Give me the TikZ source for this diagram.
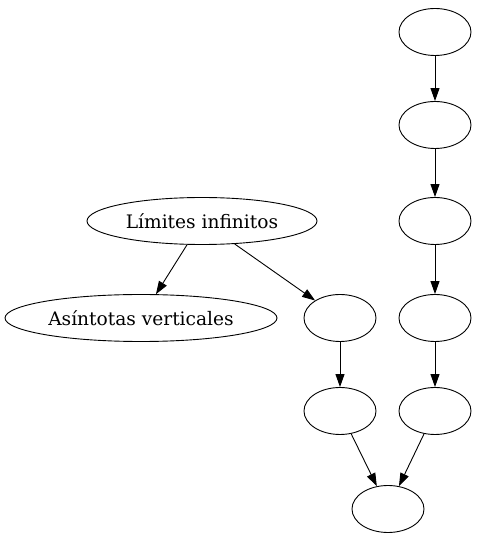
\documentclass[tikz,border=0pt]{standalone}
\usepackage{fontspec}
\setmainfont{DejaVu Serif}
\usetikzlibrary{shapes.geometric,arrows.meta}
\begin{document}
\begin{tikzpicture}[x=1pt,y=1pt,
  el/.style={draw,ellipse,inner sep=0pt,minimum width=72pt,minimum height=47pt,line width=0.9pt,font=\fontsize{18.6}{22}\selectfont},
  arr/.style={-{Triangle[length=13pt,width=9pt]},line width=0.9pt}]
\useasboundingbox (0,0) rectangle (477,539);
\node[el] (r1) at (435,507) {};
\node[el] (r2) at (435,414) {};
\node[el] (r3) at (435,318) {};
\node[el] (r4) at (435,221) {};
\node[el] (r5) at (435,128) {};
\node[el,minimum width=230pt] (lim) at (202,318) {Límites infinitos};
\node[el,minimum width=272pt] (asi) at (141,221) {Asíntotas verticales};
\node[el] (m1) at (340,221) {};
\node[el] (m2) at (340,128) {};
\node[el] (b) at (388,30) {};
\draw[arr] (r1) -- (r2);
\draw[arr] (r2) -- (r3);
\draw[arr] (r3) -- (r4);
\draw[arr] (r4) -- (r5);
\draw[arr] (lim) -- (asi);
\draw[arr] (lim) -- (m1);
\draw[arr] (m1) -- (m2);
\draw[arr] (m2) -- (b);
\draw[arr] (r5) -- (b);
\end{tikzpicture}
\end{document}
